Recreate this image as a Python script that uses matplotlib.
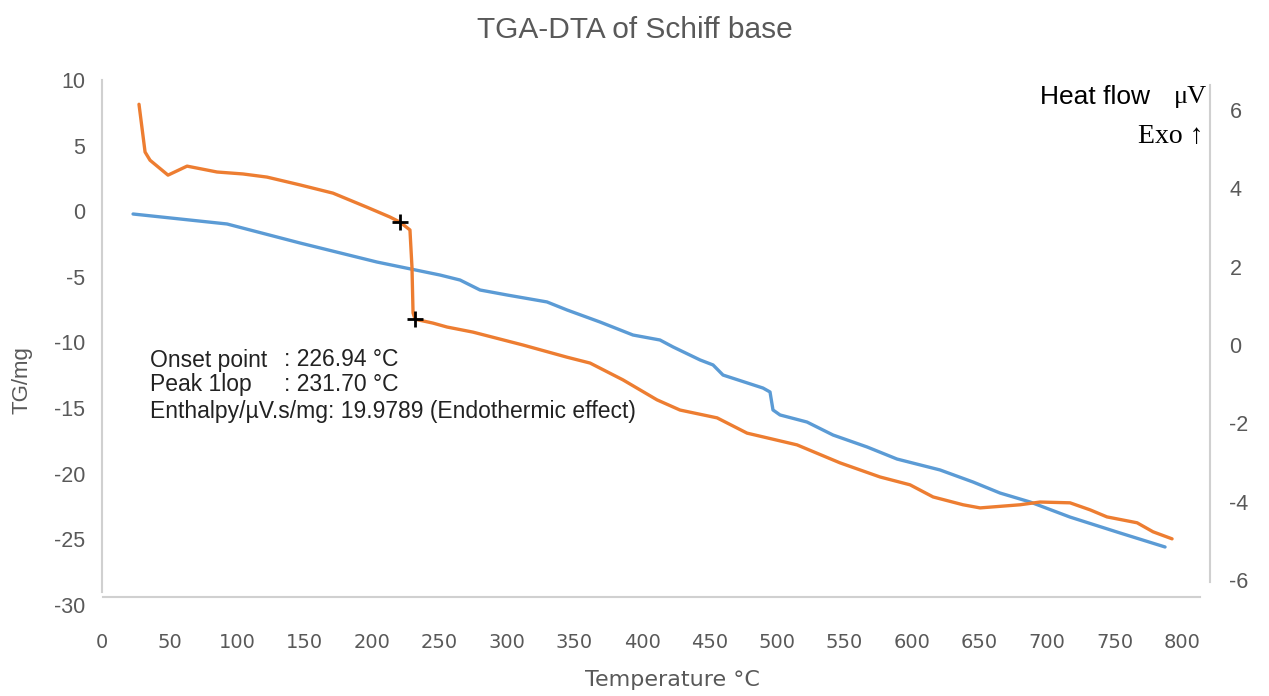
import numpy as np
import matplotlib.pyplot as plt

plt.rcParams['axes.unicode_minus'] = False
plt.rcParams['font.family'] = ['Liberation Sans', 'DejaVu Sans']

# TG curve (left axis, mg)
tg_temp = [23.0, 92.6, 146.7, 203.7, 250.4, 265.2, 280.0, 300.0, 329.6, 344.4, 368.9,
           393.3, 413.3, 423.0, 443.0, 452.6, 460.0, 489.6, 494.8, 497.0, 502.2, 522.2,
           541.5, 566.7, 588.9, 620.7, 645.2, 665.2, 687.4, 717.0, 754.0, 787.4]
tg_mass = [-0.21, -0.97, -2.42, -3.87, -4.86, -5.24, -6.0, -6.38, -6.91, -7.52, -8.44,
           -9.43, -9.81, -10.34, -11.33, -11.71, -12.48, -13.47, -13.77, -15.14, -15.52, -16.06,
           -17.05, -17.96, -18.88, -19.71, -20.63, -21.47, -22.15, -23.30, -24.51, -25.58]

# DTA curve (right axis, heat flow uV)
dta_temp = [27.4, 31.9, 35.6, 48.9, 63.0, 85.2, 104.4, 122.2, 146.7, 171.1, 196.3, 213.3,
            220.7, 228.1, 229.6, 230.4, 231.9, 245.2, 255.6, 274.8, 311.9, 344.4, 361.5,
            385.9, 411.1, 428.1, 455.6, 477.8, 514.8, 546.7, 576.3, 598.5, 615.6, 637.8,
            650.4, 680.0, 694.8, 717.0, 731.9, 744.4, 766.7, 778.5, 792.6]
dta_flow = [6.15, 4.93, 4.72, 4.34, 4.57, 4.42, 4.37, 4.29, 4.09, 3.88, 3.52, 3.27,
            3.14, 2.94, 1.99, 0.82, 0.66, 0.56, 0.46, 0.33, 0.0, -0.31, -0.46,
            -0.89, -1.40, -1.66, -1.86, -2.25, -2.55, -3.01, -3.37, -3.57, -3.88, -4.08,
            -4.16, -4.08, -4.01, -4.03, -4.21, -4.39, -4.54, -4.77, -4.95]

# onset / peak markers
mark_temp = [220.7, 231.9]
mark_flow = [3.14, 0.66]

x_ticks = list(range(0, 801, 50))
left_ticks = list(range(-30, 11, 5))
right_ticks = list(range(-6, 7, 2))

W, H = 1269, 696
fig = plt.figure(figsize=(W / 100, H / 100), dpi=100)
ax = fig.add_axes([102 / W, 1 - 605 / H, (1210 - 102) / W, (605 - 80) / H])
ax2 = ax.twinx()

grey = '#595959'
spine_c = '#d0d0d0'

ax.plot(tg_temp, tg_mass, color='#5B9BD5', lw=2.4, solid_capstyle='round',
        solid_joinstyle='round')
ax2.plot(dta_temp, dta_flow, color='#ED7D31', lw=2.4, solid_capstyle='round',
         solid_joinstyle='round')
ax2.plot(mark_temp, mark_flow, '+', color='black', ms=11, mew=2)

ax.set_xlim(0, 820.7)
ax.set_ylim(-30, 10)
ax2.set_ylim(-6.64, 6.77)

ax.set_xticks(x_ticks)
ax.set_yticks(left_ticks)
ax2.set_yticks(right_ticks)

for s in ['top', 'right']:
    ax.spines[s].set_visible(False)
for s in ['top', 'left', 'bottom']:
    ax2.spines[s].set_visible(False)

ax.spines['bottom'].set_position(('data', -29.4))
ax.spines['bottom'].set_bounds(0.7, 813)
ax.spines['left'].set_bounds(-29.0, 10)
ax2.spines['right'].set_bounds(-6.05, 6.64)
for sp in [ax.spines['bottom'], ax.spines['left'], ax2.spines['right']]:
    sp.set_color(spine_c)
    sp.set_linewidth(1.5)

ax.tick_params(axis='x', length=0, pad=26, labelsize=14, labelcolor=grey)
for lab in ax.get_xticklabels():
    lab.set_family('DejaVu Sans')
ax.tick_params(axis='y', length=0, pad=12, labelsize=15.5, labelcolor=grey)
ax2.tick_params(axis='y', length=0, pad=14, labelsize=15.5, labelcolor=grey)

fig.text(0.5, 1 - 30 / H, 'TGA-DTA of Schiff base', ha='center', va='center',
         fontsize=21.5, color=grey)
fig.text(672 / W, 1 - 680 / H, 'Temperature °C', ha='center', va='center',
         fontsize=16, color=grey, family='DejaVu Sans')
fig.text(22 / W, 1 - 380 / H, 'TG/mg', ha='center', va='center', rotation=90,
         fontsize=16, color=grey)

fig.text(1150 / W, 1 - 97 / H, 'Heat flow', ha='right', va='center', fontsize=19,
         color='black')
fig.text(1207 / W, 1 - 97 / H, 'μV', ha='right', va='center', fontsize=19,
         color='black', family=['Liberation Serif', 'DejaVu Serif'])
fig.text(1204 / W, 1 - 137 / H, 'Exo ↑', ha='right', va='center', fontsize=20,
         color='black', family=['Liberation Serif', 'DejaVu Serif'])

note_kw = dict(ha='left', va='center', fontsize=16.5, color='#222222')
fig.text(150 / W, 1 - 360 / H, 'Onset point', **note_kw)
fig.text(284 / W, 1 - 360 / H, ': 226.94 °C', **note_kw)
fig.text(150 / W, 1 - 385 / H, 'Peak 1lop', **note_kw)
fig.text(284 / W, 1 - 385 / H, ': 231.70 °C', **note_kw)
fig.text(150 / W, 1 - 411 / H, 'Enthalpy/µV.s/mg: 19.9789 (Endothermic effect)', **note_kw)

fig.savefig('out.png', dpi=100)
